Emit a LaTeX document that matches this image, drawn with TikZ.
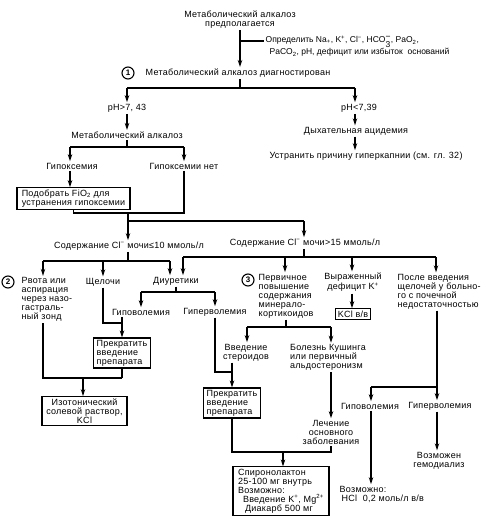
\documentclass[tikz,border=0pt]{standalone}
\usepackage{fontspec}
\setmainfont{Liberation Sans}
\newfontfamily\lsfont[LetterSpace=3]{Liberation Sans}
\usetikzlibrary{arrows.meta}
\newcommand{\fs}{\lsfont\fontsize{9}{9}\selectfont}
\newcommand{\fsw}{\fontsize{8.5}{11}\selectfont}
\newcommand{\sbs}[1]{\textsubscript{#1}}
\newcommand{\sps}[1]{\textsuperscript{#1}}
\begin{document}
\begin{tikzpicture}[x=1pt,y=-1pt,
  txt/.style={inner sep=1.5pt, font=\fs, align=center},
  ltxt/.style={inner sep=1.5pt, font=\fs, align=left},
  bx/.style={draw, line width=1.1pt, inner sep=2pt, font=\fs, align=center},
  num/.style={draw, circle, line width=1.1pt, inner sep=0pt, minimum size=12pt, font=\fontsize{8}{8}\selectfont\bfseries},
  ln/.style={line width=1.1pt},
  arr/.style={line width=1.1pt, -{Stealth[length=7pt,width=4.5pt]}},
]
\useasboundingbox (0,0) rectangle (486,522);
% top
\node[txt] (top) at (240,19.5) {Метаболический алкалоз\\предполагается};
\node[ltxt, anchor=west, font=\fsw] (det) at (264,46.5) {Определить Na\sbs{+}, K\sps{+}, Cl\sps{−}, HCO\(_{\textrm{3}}^{\textrm{−}}\), PaO\sbs{2},\\\hspace{4pt}PaCO\sbs{2}, pH, дефицит или избыток \ оснований};
\node[num] (c1) at (128,73) {1};
\node[ltxt, anchor=west] (diag) at (144,73) {Метаболический алкалоз диагностирован};
\draw[arr] (top.south) -- (top.south |- diag.north);
\coordinate (dj) at (240,41);
\draw[ln] (dj) -- (dj -| det.west);
\coordinate (j1) at (240,88);
\coordinate (j1l) at (127,88);
\coordinate (j1r) at (355,88);
\draw[ln] (j1 |- diag.south) -- (j1);
\draw[ln] (j1l) -- (j1r);
\node[txt] (ph1) at (127,108) {pH>7, 43};
\node[txt] (ph2) at (359,108) {pH<7,39};
\draw[arr] (j1l) -- (j1l |- ph1.north);
\draw[arr] (j1r) -- (j1r |- ph2.north);
\node[txt] (ma) at (127,135) {Метаболический алкалоз};
\draw[arr] (ph1.south -| j1l) -- (j1l |- ma.north);
\node[txt] (da) at (356,131) {Дыхательная ацидемия};
\draw[arr] (ph2.south -| j1r) -- (j1r |- da.north);
\node[txt] (ust) at (366,156) {Устранить причину гиперкапнии (см. гл. 32)};
\draw[arr] (da.south -| j1r) -- (j1r |- ust.north);
% hypoxemia
\coordinate (j2) at (127,147);
\coordinate (j2l) at (70,147);
\coordinate (j2r) at (184,147);
\draw[ln] (ma.south -| j2) -- (j2);
\draw[ln] (j2l) -- (j2r);
\node[txt] (hyp) at (72,166) {Гипоксемия};
\node[txt] (nohyp) at (184,166) {Гипоксемии нет};
\draw[arr] (j2l) -- (j2l |- hyp.north);
\draw[arr] (j2r) -- (j2r |- nohyp.north);
\node[bx, minimum width=113pt, minimum height=21pt, align=left] (fio) at (73.5,198.5) {Подобрать FiO\sbs{2} для\\устранения гипоксемии};
\draw[arr] (hyp.south -| j2l) -- (j2l |- fio.north);
\coordinate (j3) at (128,213);
\draw[ln] (nohyp.south -| j2r) |- (j3);
\draw[ln] (fio.south) |- (j3);
\node[txt] (cl1) at (129,246) {Содержание Cl\sps{−} мочи≤10 ммоль/л};
\draw[arr] (j3) -- (j3 |- cl1.north);
\coordinate (j4) at (128,221);
\coordinate (j4r) at (304,221);
\draw[ln] (j4) -- (j4r);
\node[txt] (cl2) at (305,243) {Содержание Cl\sps{−} мочи>15 ммоль/л};
\draw[arr] (j4r) -- (j4r |- cl2.north);
% left branch
\coordinate (j5) at (128,261);
\coordinate (j5a) at (43,261);
\coordinate (j5b) at (103,261);
\coordinate (j5c) at (170,261);
\draw[ln] (cl1.south -| j5) -- (j5);
\draw[ln] (j5a) -- (j5c);
\node[num] (c2) at (8,282) {2};
\node[ltxt, anchor=west] (vom) at (20,299.5) {Рвота или\\аспирация\\через назо-\\гастраль-\\ный зонд};
\node[txt] (alk) at (103,282) {Щелочи};
\node[txt] (diu) at (176,281) {Диуретики};
\draw[arr] (j5a) -- (j5a |- vom.north);
\draw[arr] (j5b) -- (j5b |- alk.north);
\draw[arr] (j5c) -- (j5c |- diu.north);
% right branch
\coordinate (j6) at (304,257);
\coordinate (j6a) at (183,257);
\coordinate (j6b) at (285,257);
\coordinate (j6c) at (352,257);
\coordinate (j6d) at (436,257);
\draw[ln] (cl2.south -| j6) -- (j6);
\draw[ln] (j6a) -- (j6d);
\draw[arr] (j6a) -- (j6a |- diu.north);
\node[num] (c3) at (248,280) {3};
\node[ltxt, anchor=west] (min) at (257,296) {Первичное\\повышение\\содержания\\минерало-\\кортикоидов};
\draw[arr] (j6b) -- (j6b |- min.north);
\node[txt] (kd) at (353,282.5) {Выраженный\\дефицит K\sps{+}};
\draw[arr] (j6c) -- (j6c |- kd.north);
\node[ltxt, anchor=west] (aft) at (396,291.5) {После введения\\щелочей у больно-\\го с почечной\\недостаточностью};
\draw[arr] (j6d) -- (j6d |- aft.north);
\node[bx] (kcl) at (353,314) {KCl в/в};
\draw[arr] (kd.south -| j6c) -- (j6c |- kcl.north);
% diuretics
\coordinate (j7) at (176,292);
\coordinate (j7a) at (141,292);
\coordinate (j7b) at (215,292);
\draw[ln] (diu.south) -- (j7);
\draw[ln] (j7a) -- (j7b);
\node[txt] (hypo) at (141,312) {Гиповолемия};
\node[txt] (hyper) at (215,312) {Гиперволемия};
\draw[arr] (j7a) -- (j7a |- hypo.north);
\draw[arr] (j7b) -- (j7b |- hyper.north);
\node[bx, minimum width=57pt, align=left] (stop1) at (122,353) {Прекратить\\введение\\препарата};
\coordinate (j8) at (122,323);
\draw[ln] (alk.south -| j5b) |- (j8);
\draw[arr] (hypo.south -| j8) -- (j8 |- stop1.north);
\coordinate (j9) at (83,378);
\draw[ln] (vom.south -| j5a) |- (stop1.south |- j9);
\draw[ln] (stop1.south) -- (stop1.south |- j9);
\node[bx, minimum width=85pt] (iso) at (84.5,411) {Изотонический\\солевой раствор,\\KCl};
\draw[arr] (j9) -- (j9 |- iso.north);
% mineralocorticoids
\coordinate (j10) at (286,327);
\coordinate (j10a) at (247,327);
\coordinate (j10b) at (331,327);
\draw[ln] (min.south -| j10) -- (j10);
\draw[ln] (j10a) -- (j10b);
\node[txt] (ster) at (246,352.5) {Введение\\стероидов};
\node[ltxt] (cush) at (328,357.5) {Болезнь Кушинга\\или первичный\\альдостеронизм};
\draw[arr] (j10a) -- (j10a |- ster.north);
\draw[arr] (j10b) -- (j10b |- cush.north);
\node[bx, minimum width=57pt, align=left] (stop2) at (232,403) {Прекратить\\введение\\препарата};
\coordinate (j11) at (232,372);
\draw[ln] (hyper.south -| j7b) |- (j11);
\draw[ln] (ster.south -| j11) -- (j11);
\draw[arr] (j11) -- (stop2.north);
\node[txt] (tr) at (331,432) {Лечение\\основного\\заболевания};
\draw[arr] (cush.south -| j10b) -- (j10b |- tr.north);
\coordinate (j12) at (283,452);
\draw[ln] (stop2.south) |- (tr.south |- j12) -- (tr.south);
\node[bx, align=left, minimum width=96pt] (spiro) at (281,491) {Спиронолактон\\25-100 мг внутрь\\Возможно:\\\hspace{5pt}Введение K\sps{+}, Mg\sps{2+}\\\hspace{7pt}Диакарб 500 мг};
\draw[arr] (j12) -- (j12 |- spiro.north);
% after alkali
\coordinate (j13) at (437,387);
\coordinate (j13a) at (371,387);
\draw[ln] (aft.south -| j13) -- (j13) -- (j13a);
\node[txt] (hypo2) at (370,406) {Гиповолемия};
\node[txt] (hyper2) at (440,406) {Гиперволемия};
\draw[arr] (j13a) -- (j13a |- hypo2.north);
\draw[arr] (j13) -- (j13 |- hyper2.north);
\node[ltxt, anchor=west] (poss) at (338,494) {Возможно:\\\hspace{2pt}HCl \ 0,2 моль/л в/в};
\draw[arr] (hypo2.south -| j13a) -- (j13a |- poss.north);
\node[txt] (dial) at (439,460.5) {Возможен\\гемодиализ};
\draw[arr] (hyper2.south -| j13) -- (j13 |- dial.north);
\end{tikzpicture}
\end{document}
